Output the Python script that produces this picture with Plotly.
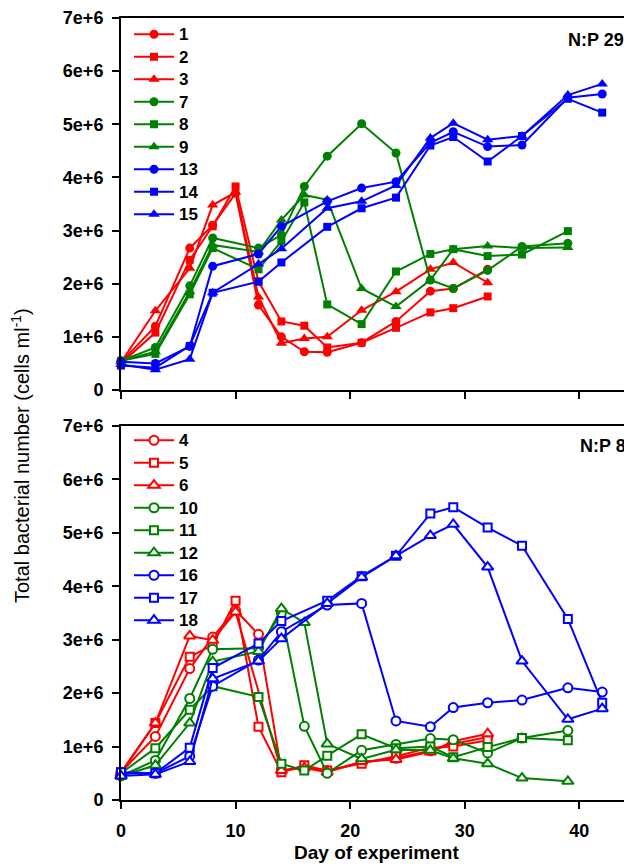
import plotly.graph_objects as go

# ---------------- data (cells ml-1, in millions) ----------------
days_red = [0, 3, 6, 8, 10, 12, 14, 16, 18, 21, 24, 27, 29, 32]
days_green = [0, 3, 6, 8, 12, 14, 16, 18, 21, 24, 27, 29, 32, 35, 39]
days_blue = [0, 3, 6, 8, 12, 14, 18, 21, 24, 27, 29, 32, 35, 39, 42]

# Top panel: N:P 29 (filled symbols)
s1 = [0.52, 1.20, 2.67, 3.10, 3.70, 1.60, 1.00, 0.72, 0.71, 0.89, 1.29, 1.86, 1.91, 2.27]
s2 = [0.50, 1.08, 2.45, 3.08, 3.83, 2.04, 1.29, 1.21, 0.80, 0.89, 1.17, 1.46, 1.54, 1.76]
s3 = [0.52, 1.49, 2.29, 3.48, 3.72, 1.75, 0.88, 0.97, 1.00, 1.50, 1.85, 2.27, 2.40, 2.02]
s7 = [0.55, 0.80, 1.96, 2.86, 2.67, 2.92, 3.83, 4.40, 5.01, 4.46, 2.07, 1.91, 2.25, 2.70, 2.76]
s8 = [0.55, 0.68, 1.80, 2.67, 2.27, 2.80, 3.53, 1.61, 1.24, 2.23, 2.56, 2.65, 2.52, 2.55, 2.99]
s9 = [0.55, 0.72, 1.85, 2.73, 2.60, 3.20, 3.67, 3.58, 1.91, 1.57, 2.07, 2.65, 2.71, 2.67, 2.68]
s13 = [0.53, 0.50, 0.82, 2.33, 2.56, 3.08, 3.55, 3.80, 3.92, 4.65, 4.86, 4.58, 4.61, 5.50, 5.57]
s14 = [0.46, 0.42, 0.83, 1.83, 2.04, 2.40, 3.07, 3.42, 3.62, 4.60, 4.76, 4.30, 4.78, 5.48, 5.22]
s15 = [0.48, 0.38, 0.58, 1.83, 2.37, 2.66, 3.42, 3.55, 3.85, 4.74, 5.02, 4.71, 4.78, 5.55, 5.76]

# Bottom panel: N:P 8 (open symbols)
s4 = [0.52, 1.19, 2.46, 3.05, 3.55, 3.10, 0.55, 0.62, 0.55, 0.70, 0.78, 0.92, 1.05, 1.18]
s5 = [0.52, 1.44, 2.68, 2.90, 3.73, 1.37, 0.52, 0.65, 0.55, 0.68, 0.82, 0.98, 1.00, 1.12]
s6 = [0.50, 1.44, 3.07, 2.99, 3.52, None, 0.55, 0.60, 0.52, 0.72, 0.76, 0.90, 1.10, 1.24]
s10 = [0.45, 0.74, 1.90, 2.82, 2.84, 3.50, 1.38, 0.50, 0.93, 1.04, 1.15, 1.13, 0.88, 1.16, 1.30]
s11 = [0.50, 0.97, 1.69, 2.13, 1.93, 0.68, 0.55, 0.83, 1.23, 0.97, 1.00, 0.80, 0.99, 1.16, 1.12]
s12 = [0.45, 0.65, 1.44, 2.59, 2.78, 3.58, 3.32, 1.05, 0.77, 0.94, 0.93, 0.78, 0.68, 0.41, 0.35]
s16 = [0.50, 0.50, 0.82, 2.13, 2.62, 3.15, 3.65, 3.68, 1.48, 1.37, 1.73, 1.82, 1.87, 2.10, 2.02]
s17 = [0.52, 0.50, 0.98, 2.47, 2.93, 3.35, 3.73, 4.19, 4.57, 5.36, 5.48, 5.10, 4.76, 3.39, 1.82]
s18 = [0.45, 0.48, 0.72, 2.27, 2.60, 3.02, 3.68, 4.17, 4.57, 4.95, 5.16, 4.36, 2.60, 1.51, 1.71]

y_tickvals = [0, 1e6, 2e6, 3e6, 4e6, 5e6, 6e6, 7e6]
y_ticktext = ["0", "1e+6", "2e+6", "3e+6", "4e+6", "5e+6", "6e+6", "7e+6"]
x_tickvals = [0, 10, 20, 30, 40]
x_ticktext = ["0", "10", "20", "30", "40"]

RED, GREEN, BLUE = "#FF0000", "#008000", "#0000FF"
FONT = "Liberation Sans, Arial, sans-serif"

top_series = [
    ("1", days_red, s1, RED, "circle"),
    ("2", days_red, s2, RED, "square"),
    ("3", days_red, s3, RED, "triangle-up"),
    ("7", days_green, s7, GREEN, "circle"),
    ("8", days_green, s8, GREEN, "square"),
    ("9", days_green, s9, GREEN, "triangle-up"),
    ("13", days_blue, s13, BLUE, "circle"),
    ("14", days_blue, s14, BLUE, "square"),
    ("15", days_blue, s15, BLUE, "triangle-up"),
]
bottom_series = [
    ("4", days_red, s4, RED, "circle"),
    ("5", days_red, s5, RED, "square"),
    ("6", days_red, s6, RED, "triangle-up"),
    ("10", days_green, s10, GREEN, "circle"),
    ("11", days_green, s11, GREEN, "square"),
    ("12", days_green, s12, GREEN, "triangle-up"),
    ("16", days_blue, s16, BLUE, "circle"),
    ("17", days_blue, s17, BLUE, "square"),
    ("18", days_blue, s18, BLUE, "triangle-up"),
]

SIZES = {"circle": 9, "square": 8, "triangle-up": 10}


def legend_label(n):
    return '<span style="font-size:17px">' + n + '</span>'


fig = go.Figure()
for name, d, v, c, sym in top_series:
    fig.add_trace(go.Scatter(
        x=d, y=[None if a is None else a * 1e6 for a in v], name=legend_label(name),
        mode="lines+markers", connectgaps=True, cliponaxis=False,
        line=dict(color=c, width=2),
        marker=dict(symbol=sym, size=SIZES[sym], color=c, line=dict(width=0)),
        xaxis="x", yaxis="y", legend="legend"))
for name, d, v, c, sym in bottom_series:
    fig.add_trace(go.Scatter(
        x=d, y=[None if a is None else a * 1e6 for a in v], name=legend_label(name),
        mode="lines+markers", connectgaps=True, cliponaxis=False,
        line=dict(color=c, width=2),
        marker=dict(symbol=sym, size=SIZES[sym], color="white", line=dict(width=2, color=c)),
        xaxis="x2", yaxis="y2", legend="legend2"))

# The page adds an 8px body margin, so the figure is 8px smaller than the window.
W, H = 624, 859
ML, MR, MT, MB = 113, 0, 10, 67
PW = W - ML - MR
ph = H - MT - MB


def px(page_x):
    return (page_x - 8 - ML) / PW


def py(page_y):
    return (H - MB - (page_y - 8)) / ph


top_dom = [py(390), 1.0]
bot_dom = [0.0, py(426)]

tickfont = dict(family=FONT, size=18, color="black", weight="bold")
axis_common = dict(showline=True, linecolor="black", linewidth=2, ticks="outside",
                   ticklen=7, tickwidth=2, tickcolor="black", showgrid=False, zeroline=False,
                   tickfont=tickfont)

legfont = dict(family=FONT, size=15, color="black", weight="bold")

fig.update_layout(
    width=W, height=H, margin=dict(l=ML, r=MR, t=MT, b=MB),
    paper_bgcolor="white", plot_bgcolor="white",
    font=dict(family=FONT, color="black"),
    xaxis=dict(domain=[0, 1], anchor="y", range=[0, 44.6], tickvals=x_tickvals,
               showticklabels=False, mirror=True, **axis_common),
    yaxis=dict(domain=top_dom, anchor="x", range=[0, 7e6], tickvals=y_tickvals,
               ticktext=y_ticktext, ticklabelstandoff=5, **axis_common),
    xaxis2=dict(domain=[0, 1], anchor="y2", range=[0, 44.6], tickvals=x_tickvals,
                ticktext=x_ticktext, ticklabelstandoff=6, mirror=True, **axis_common),
    yaxis2=dict(domain=bot_dom, anchor="x2", range=[0, 7e6], tickvals=y_tickvals,
                ticktext=y_ticktext, ticklabelstandoff=5, **axis_common),
    legend=dict(x=8 / PW, y=1.0, xanchor="left", yanchor="top", bgcolor="rgba(0,0,0,0)",
                font=legfont, itemwidth=40, tracegroupgap=0),
    legend2=dict(x=8 / PW, y=bot_dom[1] + 2 / ph, xanchor="left", yanchor="top",
                 bgcolor="rgba(0,0,0,0)", font=legfont, itemwidth=40, tracegroupgap=0),
    showlegend=True,
)

fig.add_annotation(text="N:P 29", xref="paper", yref="paper", x=px(626),
                   y=py(40), xanchor="right", yanchor="middle", showarrow=False,
                   align="right", font=dict(family=FONT, size=18, color="black", weight="bold"))
fig.add_annotation(text="N:P 8", xref="paper", yref="paper", x=px(628),
                   y=py(446), xanchor="right", yanchor="middle", showarrow=False,
                   align="right", font=dict(family=FONT, size=18, color="black", weight="bold"))
fig.add_annotation(text="Total bacterial number (cells ml<sup>-1</sup>)", xref="paper", yref="paper",
                   x=px(20), y=py(456), textangle=-90,
                   xanchor="center", yanchor="middle", showarrow=False,
                   font=dict(family=FONT, size=20, color="black"))
fig.add_annotation(text="Day of experiment", xref="paper", yref="paper",
                   x=0.5, y=py(852), xanchor="center", yanchor="middle", showarrow=False,
                   font=dict(family=FONT, size=19, color="black", weight="bold"))

fig.write_html("out.html")
